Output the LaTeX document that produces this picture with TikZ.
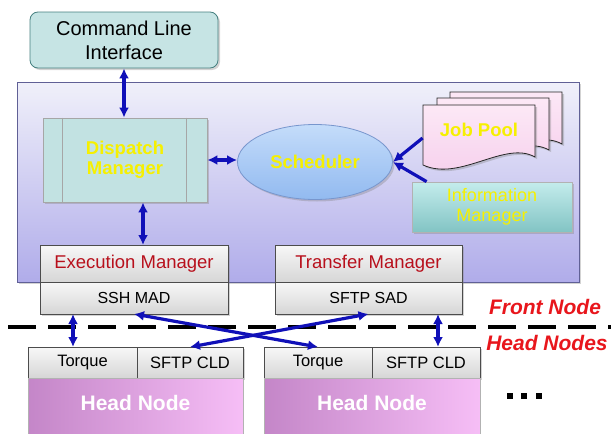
\documentclass[tikz,border=0pt]{standalone}
\usepackage{fontspec}
\setmainfont{Liberation Sans}
\usetikzlibrary{positioning,shapes.geometric,arrows.meta,shadows}
\definecolor{linkblue}{HTML}{1010B8}
\definecolor{labelyellow}{HTML}{F6F000}
\definecolor{mgrred}{HTML}{B8101C}
\definecolor{noderred}{HTML}{E8161C}
\begin{document}
\begin{tikzpicture}[x=1pt,y=-1pt,thick,
      box shadow/.style={drop shadow={opacity=0.35,shadow xshift=2pt,shadow yshift=-2pt}},
      cli box/.style={draw=teal!45!gray,fill={rgb,255:red,198;green,228;blue,228},rounded corners=8pt,
        minimum width=188pt,minimum height=56pt,align=center,box shadow,
        font=\fontsize{20}{24}\selectfont},
      panel/.style={draw={rgb,255:red,96;green,96;blue,150},top color={rgb,255:red,240;green,240;blue,250},
        bottom color={rgb,255:red,176;green,172;blue,234},minimum width=562pt,minimum height=200pt,box shadow},
      yellow text/.style={text=labelyellow,align=center,font=\fontsize{18.5}{20}\selectfont\bfseries},
      dispatch box/.style={draw=gray!70,fill={rgb,255:red,194;green,226;blue,226},minimum width=164pt,
        minimum height=84pt,box shadow,yellow text},
      sched box/.style={ellipse,draw={rgb,255:red,120;green,150;blue,205},top color={rgb,255:red,196;green,220;blue,250},
        bottom color={rgb,255:red,146;green,186;blue,240},minimum width=155pt,minimum height=75pt,inner sep=0pt,
        box shadow,yellow text},
      doc shape/.style={draw=gray!30!black,top color={rgb,255:red,252;green,232;blue,246},
        bottom color={rgb,255:red,246;green,206;blue,236},box shadow},
      info box/.style={draw=gray!60,top color={rgb,255:red,196;green,236;blue,236},
        bottom color={rgb,255:red,130;green,196;blue,196},minimum width=160pt,minimum height=50pt,box shadow,
        yellow text,font=\fontsize{18}{20}\selectfont},
      gray box/.style={draw=gray!60!black,top color=gray!6,bottom color=gray!32,inner sep=0pt,outer sep=0pt,box shadow},
      mgr box/.style={gray box,minimum width=188pt,minimum height=37pt,text=mgrred,font=\fontsize{18.5}{20}\selectfont},
      mad box/.style={gray box,minimum width=188pt,minimum height=32pt,font=\fontsize{16}{18}\selectfont},
      cld box/.style={gray box,minimum width=108pt,minimum height=31pt,font=\fontsize{16.5}{18}\selectfont},
      head box/.style={draw=gray!60,outer sep=0pt,left color={rgb,255:red,196;green,134;blue,200},
        right color={rgb,255:red,246;green,190;blue,246},minimum width=216pt,minimum height=56pt,text=white,
        text depth=7pt,font=\fontsize{21}{22}\selectfont\bfseries},
      side label/.style={text=noderred,font=\fontsize{21}{22}\selectfont\bfseries\itshape},
      divider/.style={line width=4.5pt,dash pattern=on 28pt off 12pt},
      link/.style={{Latex[length=10pt,width=10pt]}-{Latex[length=10pt,width=10pt]},line width=3.2pt,draw=linkblue},
      feed/.style={-{Latex[length=10pt,width=10pt]},line width=3.2pt,draw=linkblue}]

  \useasboundingbox (0,0) rectangle (611,434);

  % front node
  \node[panel] (frontpanel) at (298,182) {};
  \node[cli box] (cli) at (124,40) {Command Line\\Interface};
  \node[dispatch box] (dispatch) at (125,160) {Dispatch\\Manager};
  \draw[draw=gray!70] ([xshift=20pt]dispatch.north west) -- ([xshift=20pt]dispatch.south west)
                      ([xshift=-21pt]dispatch.north east) -- ([xshift=-21pt]dispatch.south east);
  \node[sched box] (sched) at (315,162) {Scheduler};

  \foreach \dx/\dy in {27/-13,14/-7,0/0}
    \draw[doc shape,shift={(\dx,\dy)}] (423,105) -- (535,105) -- (535,157)
      .. controls (505,140) and (460,182) .. (423,165) -- cycle;
  \node[yellow text,minimum width=112pt,inner sep=0pt] (jobpool) at (479,130) {Job Pool};
  \node[info box] (info) at (492,207) {Information\\Manager};

  \node[mgr box] (exec) at (134,263.5) {Execution Manager};
  \node[mad box] (sshmad) [below=0pt of exec] {SSH MAD};
  \node[mgr box,minimum width=187pt] (transfer) at (368.5,263.5) {Transfer Manager};
  \node[mad box,minimum width=187pt] (sftpsad) [below=0pt of transfer] {SFTP SAD};

  \node[side label] (frontlabel) at (545,307) {Front Node};
  \node[side label] (headlabel) at (547,343) {Head Nodes};

  % head nodes
  \node[cld box,minimum width=109pt] (torque1) at (82.5,362.5) {Torque};
  \node[cld box,minimum width=106pt] (sftpcld1) [right=0pt of torque1] {SFTP CLD};
  \node[head box,minimum width=215pt,anchor=north west] (head1) at (torque1.south west) {Head Node};
  \node[cld box] (torque2) at (318,362.5) {Torque};
  \node[cld box] (sftpcld2) [right=0pt of torque2] {SFTP CLD};
  \node[head box,anchor=north west] (head2) at (torque2.south west) {Head Node};
  \foreach \x in {510,524,539}
    \fill (\x-3,393) rectangle (\x+3,399);

  \coordinate (dashl) at (8,327);
  \coordinate (dashr) at (611,327);
  \draw[divider] (dashl) -- (dashr);

  \draw[link] (cli.south) -- (cli.south |- dispatch.north);
  \draw[link] (dispatch.east) -- (dispatch.east -| sched.west);
  \draw[link] ([xshift=18pt]dispatch.south) -- ([xshift=18pt]dispatch.south |- exec.north);
  \draw[feed] ([yshift=-8pt]jobpool.west) -- (sched.east);
  \draw[feed] ([xshift=15pt]info.north west) -- (sched.east);
  \draw[link] ([xshift=-61pt]sshmad.south) -- ([xshift=-61pt]sshmad.south |- torque1.north);
  \draw[link] (sshmad.south) -- (torque2.north);
  \draw[link] (sftpsad.south) -- (sftpcld1.north);
  \draw[link] ([xshift=12pt]sftpcld2.north) -- ([xshift=12pt]sftpcld2.north |- sftpsad.south);
\end{tikzpicture}
\end{document}
